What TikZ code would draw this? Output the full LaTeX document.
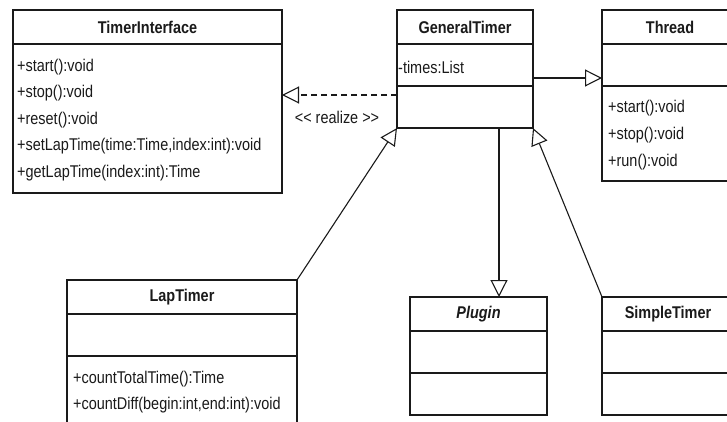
\documentclass[tikz,border=0pt]{standalone}
\usepackage{fontspec}
\newfontfamily\umlfont[FakeStretch=0.85]{Liberation Sans}
\usetikzlibrary{arrows.meta}
\definecolor{ink}{HTML}{1A1A1A}
\begin{document}
\begin{tikzpicture}[x=1pt,y=-1pt,
  frame/.style={draw=ink, line width=1.2pt, inner sep=0pt, outer sep=0pt, anchor=north west, fill=white},
  ttl/.style={font=\umlfont\bfseries\fontsize{17}{19}\selectfont, text=ink},
  mem/.style={font=\umlfont\fontsize{17}{19}\selectfont, text=ink, anchor=west, inner sep=0pt},
  gen/.style={draw=ink, line width=1.1pt,
    -{Triangle[length=17pt,width=17pt,fill=white,line width=1.1pt]}},
  realize/.style={gen, dash pattern=on 6pt off 4pt},
]
\useasboundingbox (0,0) rectangle (727,422);
\clip (0,0) rectangle (727,422);
\fill[white] (0,0) rectangle (727,422);

% TimerInterface
\node[frame, ttl, minimum width=269pt, minimum height=34pt] (tiH) at (13,10) {TimerInterface};
\node[frame, minimum width=269pt, minimum height=149pt] (tiB) at (tiH.south west) {};
\node[mem] (ti1) at (17,67) {+start():void};
\node[mem] (ti2) at (17,93.5) {+stop():void};
\node[mem] (ti3) at (17,120) {+reset():void};
\node[mem] (ti4) at (17,146.5) {+setLapTime(time:Time,index:int):void};
\node[mem] (ti5) at (17,173) {+getLapTime(index:int):Time};

% GeneralTimer
\node[frame, ttl, minimum width=136pt, minimum height=34pt] (gtH) at (397,10) {GeneralTimer};
\node[frame, minimum width=136pt, minimum height=42pt] (gtA) at (gtH.south west) {};
\node[frame, minimum width=136pt, minimum height=42pt] (gtM) at (gtA.south west) {};
\node[mem] (gt1) at (398,67) {-times:List};

% Thread
\node[frame, minimum width=160pt, minimum height=34pt] (thH) at (602,10) {};
\node[ttl] (thT) at (670,27) {Thread};
\node[frame, minimum width=160pt, minimum height=42pt] (thA) at (thH.south west) {};
\node[frame, minimum width=160pt, minimum height=95pt] (thM) at (thA.south west) {};
\node[mem] (th1) at (608,108) {+start():void};
\node[mem] (th2) at (608,135) {+stop():void};
\node[mem] (th3) at (608,162) {+run():void};

% LapTimer
\node[frame, ttl, minimum width=230pt, minimum height=34pt] (ltH) at (67,280) {LapTimer};
\node[frame, minimum width=230pt, minimum height=42pt] (ltA) at (ltH.south west) {};
\node[frame, minimum width=230pt, minimum height=90pt] (ltM) at (ltA.south west) {};
\node[mem] (lt1) at (73,379) {+countTotalTime():Time};
\node[mem] (lt2) at (73,405) {+countDiff(begin:int,end:int):void};

% Plugin
\node[frame, ttl, minimum width=137pt, minimum height=34pt] (plH) at (410,297) {\itshape Plugin};
\node[frame, minimum width=137pt, minimum height=42pt] (plA) at (plH.south west) {};
\node[frame, minimum width=137pt, minimum height=42pt] (plM) at (plA.south west) {};

% SimpleTimer
\node[frame, minimum width=160pt, minimum height=34pt] (stH) at (602,297) {};
\node[ttl] (stT) at (668,314) {SimpleTimer};
\node[frame, minimum width=160pt, minimum height=42pt] (stA) at (stH.south west) {};
\node[frame, minimum width=160pt, minimum height=42pt] (stM) at (stA.south west) {};

% realization: GeneralTimer -> TimerInterface
\coordinate (rz) at ([yshift=-9pt]gtM.north west);
\draw[realize] (rz) -- (rz -| tiB.east);
\node[mem, anchor=center] (rzl) at (337,117) {<< realize >>};

% GeneralTimer -> Thread
\coordinate (gx) at ([yshift=-13pt]gtA.east);
\draw[gen] (gx) -- (gx -| thA.west);

% generalizations into GeneralTimer
\draw[gen] (ltH.north east) -- (gtM.south west);
\draw[gen] (stH.north west) -- (gtM.south east);

% GeneralTimer -> Plugin
\coordinate (pg) at ([xshift=20.5pt]plH.north);
\draw[gen] (pg |- gtM.south) -- (pg);
\end{tikzpicture}
\end{document}
